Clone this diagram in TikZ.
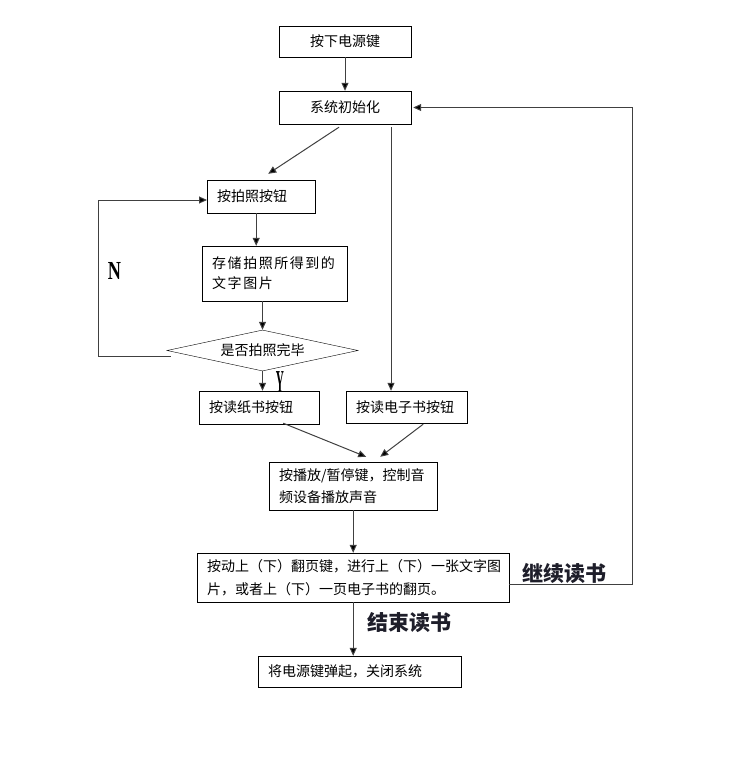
\documentclass[tikz,border=0pt]{standalone}
\usepackage{fontspec}
\setmainfont{Liberation Serif}
\newfontfamily\cjk{Noto Sans CJK SC}
\newfontfamily\cjkwide[LetterSpace=11]{Noto Sans CJK SC}
\usepackage{tikz}
\usetikzlibrary{arrows.meta, positioning, shapes.geometric, calc}
\usepackage{xcolor}
\definecolor{notegray}{RGB}{30,30,42}

\begin{document}
\begin{tikzpicture}[
    x=1pt, y=-1pt,
    box/.style={
        draw, rectangle, anchor=west, align=left,
        inner xsep=10pt, inner ysep=0pt,
        font=\cjk\fontsize{14}{22}\selectfont
    },
    cbox/.style={box, align=center, anchor=center},
    check/.style={
        draw, diamond, inner sep=0pt, aspect=4.66,
        minimum width=191pt, minimum height=41pt,
        font=\cjk\fontsize{14}{22}\selectfont
    },
    note/.style={font=\cjk\bfseries\fontsize{21}{21}\selectfont, text=notegray},
    yn/.style={font=\bfseries\fontsize{26}{26}\selectfont, inner sep=0pt},
    arr/.style={-{Triangle[length=8pt, width=7pt, fill=black]}, black!75, line width=1pt}
]
    \useasboundingbox (0,0) rectangle (753,762);

    \node (power) [cbox, minimum width=132pt, minimum height=31pt] at (345,41.5) {按下电源键};
    \node (init) [cbox, minimum width=132pt, minimum height=33pt] at (345,107.5) {系统初始化};
    \node (photo) [box, text width=88pt, minimum height=33pt] at (207,196.5) {按拍照按钮};
    \node (store) [box, text width=125pt, minimum height=55pt, font=\cjkwide\fontsize{14}{20}\selectfont] at (202,273.5) {存储拍照所得到的\\文字图片};
    \node (done) [check] at (262.5,350.5) {是否拍照完毕};
    \node (paper) [box, text width=100pt, minimum height=33pt] at (199,407.5) {按读纸书按钮};
    \node (ebook) [box, text width=101pt, minimum height=32pt] at (346,407) {按读电子书按钮};
    \node (play) [box, text width=148pt, minimum height=48pt] at (269,486) {按播放/暂停键，控制音\\频设备播放声音};
    \node (turn) [box, text width=292pt, minimum height=49pt, font=\cjk\fontsize{14}{23}\selectfont] at (197,577.5) {按动上（下）翻页键，进行上（下）一张文字图\\片，或者上（下）一页电子书的翻页。};
    \node (off) [box, text width=183pt, minimum height=31pt] at (258,671.5) {将电源键弹起，关闭系统};

    \node (no) [yn] at (114.5,270.5) {\scalebox{0.7}[1]{N}};
    \node (yes) [yn, font=\bfseries\fontsize{32}{32}\selectfont] at (280,382) {\scalebox{0.35}[1]{Y}};
    \node (goon) [note] at (564,573) {继续读书};
    \node (stop) [note] at (409,623) {结束读书};

    \draw[arr] (power) -- (init);
    \draw[arr] ([xshift=-6pt, yshift=-3pt]init.south) -- ([xshift=7pt, yshift=6pt]photo.north);
    \draw[arr] ([xshift=46pt, yshift=-3pt]init.south) -- ([xshift=46pt]init.south |- ebook.north);
    \draw[arr] ([xshift=-5pt]photo.south) -- ([xshift=-5pt]photo.south |- store.north);
    \draw[arr] (store.south -| done.north) -- (done.north);
    \draw[arr] ([xshift=4pt, yshift=-5.5pt]done.west) -- ++(-72,0) |- ([yshift=-3.5pt]photo.west);
    \draw[arr] (done.south) -- (done.south |- paper.north);
    \draw[arr] ([xshift=24pt, yshift=1pt]paper.south) -- ([xshift=13pt, yshift=5pt]play.north);
    \draw[arr] ([xshift=16.5pt, yshift=-1pt]ebook.south) -- ([xshift=27pt, yshift=5pt]play.north);
    \draw[arr] (play) -- (turn);
    \draw[arr] (turn.south) -- (turn.south |- off.north);
    \draw[arr] ([yshift=-6.5pt]turn.east) -- ++(123,0) |- ([xshift=2pt]init.east);
\end{tikzpicture}
\end{document}
